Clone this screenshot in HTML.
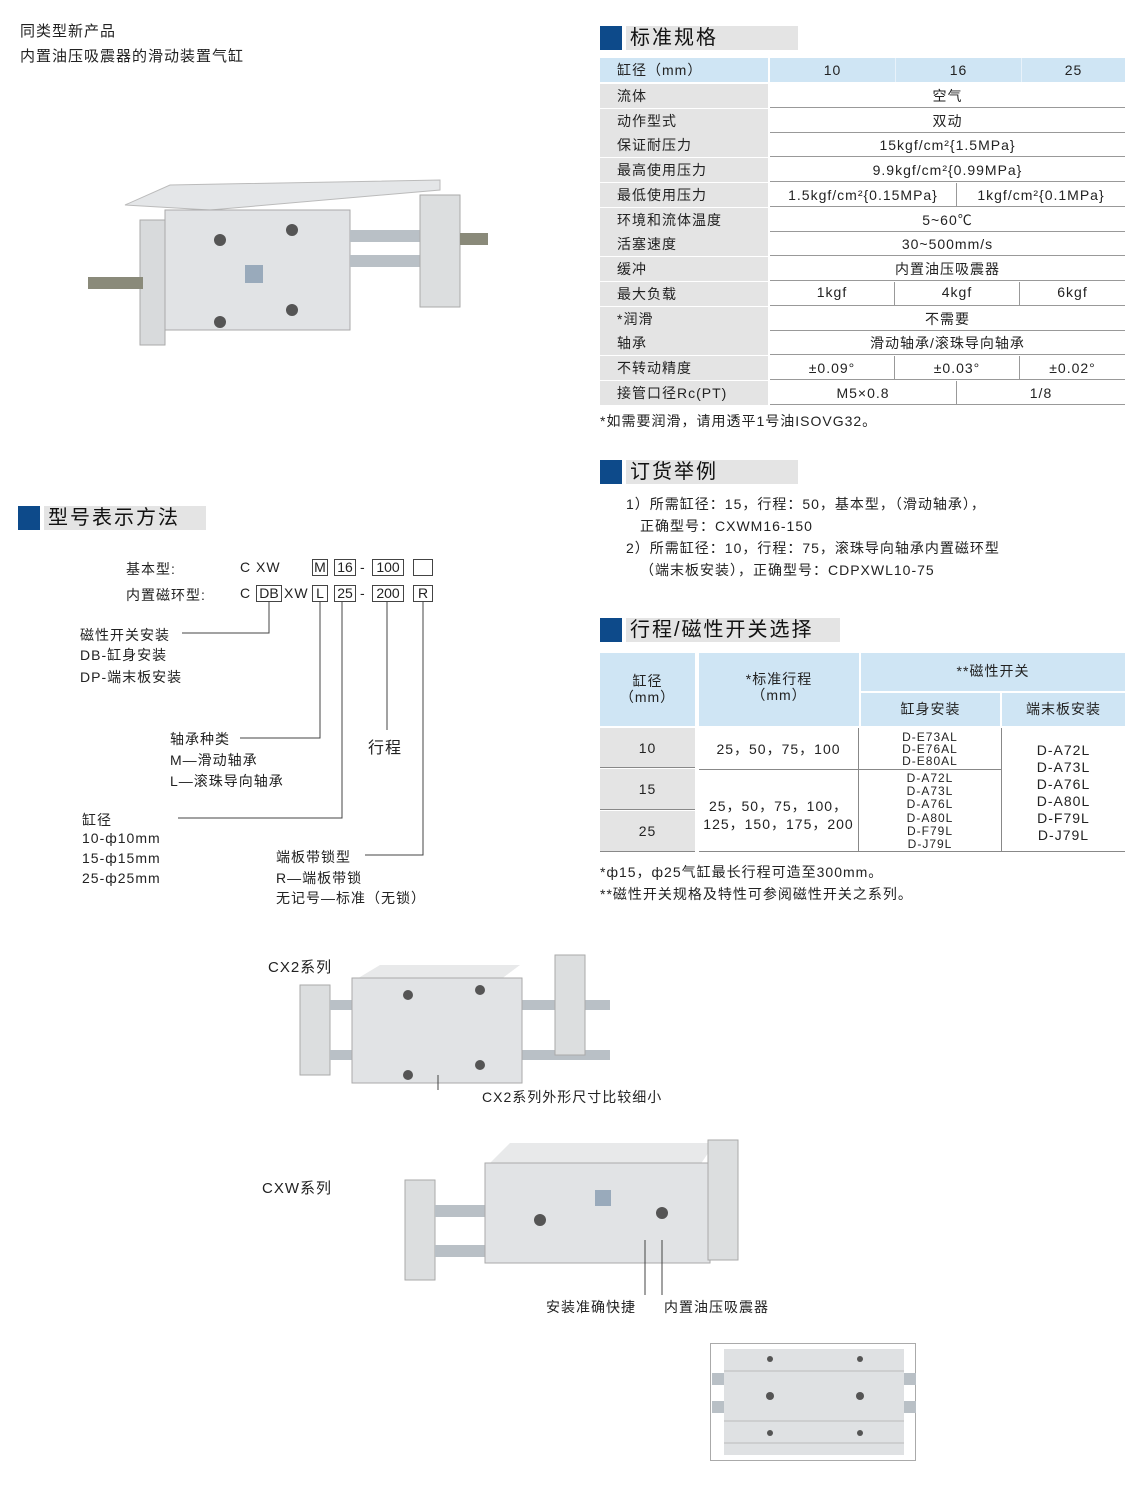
<!DOCTYPE html>
<html><head><meta charset="utf-8"><style>
*{margin:0;padding:0;box-sizing:border-box}
body{width:1140px;height:1504px;background:#fff;position:relative;font-family:"Liberation Sans","Noto Sans CJK SC",sans-serif;color:#222;overflow:hidden}
.a{position:absolute;white-space:nowrap}
.t{font-size:14px;letter-spacing:1px}
.hd{position:absolute;height:24px}
.hd .sq{position:absolute;left:0;top:0;width:22px;height:24px;background:#0d4a8a}
.hd .bar{position:absolute;left:26px;top:0;height:24px;background:#e4e4e4;font-size:20px;line-height:24px;padding-left:4px;letter-spacing:2px;color:#111}
.c{position:absolute;font-size:14px;text-align:center;line-height:24px;height:24px;letter-spacing:1px}
.bx{position:absolute;border:1px solid #444;height:17px;font-size:14px;line-height:15px;text-align:center}
</style></head><body>

<div class="a t" style="left:20px;top:20px;font-size:15px">同类型新产品</div>
<div class="a t" style="left:20px;top:45px;font-size:15px">内置油压吸震器的滑动装置气缸</div>

<svg class="a" style="left:80px;top:175px" width="420" height="175">
<polygon points="45,30 90,10 360,5 360,15 130,35" fill="#e4e6e8" stroke="#bbb"/>
<rect x="60" y="45" width="25" height="125" fill="#d8dadc" stroke="#aaa"/>
<rect x="85" y="35" width="185" height="120" fill="#e1e3e5" stroke="#aaa"/>
<rect x="270" y="55" width="75" height="12" fill="#b9c0c6"/>
<rect x="270" y="80" width="75" height="12" fill="#b9c0c6"/>
<rect x="340" y="20" width="40" height="112" fill="#dcdedf" stroke="#aaa"/>
<rect x="380" y="58" width="28" height="12" fill="#8a8a7a"/>
<rect x="8" y="102" width="55" height="12" fill="#8a8a7a"/>
<circle cx="140" cy="65" r="6" fill="#555"/><circle cx="140" cy="147" r="6" fill="#555"/>
<circle cx="212" cy="55" r="6" fill="#555"/><circle cx="212" cy="135" r="6" fill="#555"/>
<rect x="165" y="90" width="18" height="18" fill="#9ab"/>
</svg>

<div class="hd" style="left:600px;top:26px"><div class="sq"></div><div class="bar" style="width:172px">标准规格</div></div>

<div style="position:absolute;left:600px;top:58px;width:525px">
<div class="c" style="left:0;top:0;width:168px;background:#cfe5f4;text-align:left;padding-left:17px">缸径（mm）</div>
<div class="c" style="left:170px;top:0;width:355px;background:#cfe5f4"></div>
<div class="c" style="left:170px;top:0;width:126px;background:#cfe5f4;border-right:1px solid #e8f2fa">10</div>
<div class="c" style="left:296px;top:0;width:126px;background:#cfe5f4;border-right:1px solid #e8f2fa">16</div>
<div class="c" style="left:422px;top:0;width:103px;background:#cfe5f4">25</div>
</div>
<div style="position:absolute;left:600px;top:84px;width:525px">
<div class="c" style="left:0;top:0;width:168px;background:#e4e4e4;text-align:left;padding-left:17px">流体</div><div class="c" style="left:170px;top:0;width:355px;border-bottom:1px solid #999">空气</div>
<div class="c" style="left:0;top:25px;width:168px;background:#e4e4e4;text-align:left;padding-left:17px">动作型式</div><div class="c" style="left:170px;top:25px;width:355px;border-bottom:1px solid #999">双动</div>
<div class="c" style="left:0;top:49px;width:168px;background:#e4e4e4;text-align:left;padding-left:17px">保证耐压力</div><div class="c" style="left:170px;top:49px;width:355px;border-bottom:1px solid #999">15kgf/cm²{1.5MPa}</div>
<div class="c" style="left:0;top:74px;width:168px;background:#e4e4e4;text-align:left;padding-left:17px">最高使用压力</div><div class="c" style="left:170px;top:74px;width:355px;border-bottom:1px solid #999">9.9kgf/cm²{0.99MPa}</div>
<div class="c" style="left:0;top:99px;width:168px;background:#e4e4e4;text-align:left;padding-left:17px">最低使用压力</div><div class="c" style="left:170px;top:99px;width:187px;border-bottom:1px solid #999;border-right:1px solid #999">1.5kgf/cm²{0.15MPa}</div><div class="c" style="left:357px;top:99px;width:168px;border-bottom:1px solid #999">1kgf/cm²{0.1MPa}</div>
<div class="c" style="left:0;top:124px;width:168px;background:#e4e4e4;text-align:left;padding-left:17px">环境和流体温度</div><div class="c" style="left:170px;top:124px;width:355px;border-bottom:1px solid #999">5~60℃</div>
<div class="c" style="left:0;top:148px;width:168px;background:#e4e4e4;text-align:left;padding-left:17px">活塞速度</div><div class="c" style="left:170px;top:148px;width:355px;border-bottom:1px solid #999">30~500mm/s</div>
<div class="c" style="left:0;top:173px;width:168px;background:#e4e4e4;text-align:left;padding-left:17px">缓冲</div><div class="c" style="left:170px;top:173px;width:355px;border-bottom:1px solid #999">内置油压吸震器</div>
<div class="c" style="left:0;top:198px;width:168px;background:#e4e4e4;text-align:left;padding-left:17px">最大负载</div><div class="c" style="left:170px;top:198px;width:125px;border-bottom:1px solid #999;border-right:1px solid #999;line-height:20px">1kgf</div><div class="c" style="left:295px;top:198px;width:125px;border-bottom:1px solid #999;border-right:1px solid #999;line-height:20px">4kgf</div><div class="c" style="left:420px;top:198px;width:105px;border-bottom:1px solid #999;line-height:20px">6kgf</div>
<div class="c" style="left:0;top:223px;width:168px;background:#e4e4e4;text-align:left;padding-left:17px">*润滑</div><div class="c" style="left:170px;top:223px;width:355px;border-bottom:1px solid #999">不需要</div>
<div class="c" style="left:0;top:247px;width:168px;background:#e4e4e4;text-align:left;padding-left:17px">轴承</div><div class="c" style="left:170px;top:247px;width:355px;border-bottom:1px solid #999">滑动轴承/滚珠导向轴承</div>
<div class="c" style="left:0;top:272px;width:168px;background:#e4e4e4;text-align:left;padding-left:17px">不转动精度</div><div class="c" style="left:170px;top:272px;width:125px;border-bottom:1px solid #999;border-right:1px solid #999">±0.09°</div><div class="c" style="left:295px;top:272px;width:125px;border-bottom:1px solid #999;border-right:1px solid #999">±0.03°</div><div class="c" style="left:420px;top:272px;width:105px;border-bottom:1px solid #999">±0.02°</div>
<div class="c" style="left:0;top:297px;width:168px;background:#e4e4e4;text-align:left;padding-left:17px">接管口径Rc(PT)</div><div class="c" style="left:170px;top:297px;width:187px;border-bottom:1px solid #999;border-right:1px solid #999">M5×0.8</div><div class="c" style="left:357px;top:297px;width:168px;border-bottom:1px solid #999">1/8</div>
</div>
<div class="a t" style="left:600px;top:411px">*如需要润滑，请用透平1号油ISOVG32。</div>

<div class="hd" style="left:600px;top:460px"><div class="sq"></div><div class="bar" style="width:172px">订货举例</div></div>
<div class="a t" style="left:626px;top:494px">1）所需缸径：15，行程：50，基本型，（滑动轴承），</div>
<div class="a t" style="left:640px;top:516px">正确型号：CXWM16-150</div>
<div class="a t" style="left:626px;top:538px">2）所需缸径：10，行程：75，滚珠导向轴承内置磁环型</div>
<div class="a t" style="left:640px;top:560px">（端末板安装），正确型号：CDPXWL10-75</div>

<div class="hd" style="left:600px;top:618px"><div class="sq"></div><div class="bar" style="width:214px">行程/磁性开关选择</div></div>

<div style="position:absolute;left:600px;top:653px;width:525px;height:200px;font-size:14px;letter-spacing:1px">
<div class="a" style="left:0;top:0;width:95px;height:73px;background:#cfe5f4;text-align:center;padding-top:20px;line-height:16px">缸径<br>（mm）</div>
<div class="a" style="left:99px;top:0;width:160px;height:73px;background:#cfe5f4;text-align:center;padding-top:18px;line-height:16px">*标准行程<br>（mm）</div>
<div class="a" style="left:261px;top:0;width:264px;height:38px;background:#cfe5f4;text-align:center;line-height:36px">**磁性开关</div>
<div class="a" style="left:261px;top:40px;width:139px;height:33px;background:#cfe5f4;text-align:center;line-height:33px">缸身安装</div>
<div class="a" style="left:402px;top:40px;width:123px;height:33px;background:#cfe5f4;text-align:center;line-height:33px">端末板安装</div>
<div class="a" style="left:0;top:75px;width:95px;height:40px;background:#e4e4e4;text-align:center;line-height:40px;border-bottom:1px solid #888">10</div>
<div class="a" style="left:0;top:116px;width:95px;height:41px;background:#e4e4e4;text-align:center;line-height:41px;border-bottom:1px solid #888">15</div>
<div class="a" style="left:0;top:158px;width:95px;height:41px;background:#e4e4e4;text-align:center;line-height:41px;border-bottom:1px solid #888">25</div>
<div class="a" style="left:99px;top:75px;width:160px;height:42px;text-align:center;line-height:42px;border-bottom:1px solid #888;border-right:1px solid #888">25，50，75，100</div>
<div class="a" style="left:99px;top:117px;width:160px;height:82px;text-align:center;line-height:18px;padding-top:27px;border-bottom:1px solid #888;border-right:1px solid #888">25，50，75，100，<br>125，150，175，200</div>
<div class="a" style="left:259px;top:75px;width:143px;height:42px;text-align:center;line-height:12px;font-size:12px;padding-top:3px;border-bottom:1px solid #888;border-right:1px solid #888">D-E73AL<br>D-E76AL<br>D-E80AL</div>
<div class="a" style="left:259px;top:117px;width:143px;height:82px;text-align:center;line-height:13.2px;font-size:12px;padding-top:2px;border-bottom:1px solid #888;border-right:1px solid #888">D-A72L<br>D-A73L<br>D-A76L<br>D-A80L<br>D-F79L<br>D-J79L</div>
<div class="a" style="left:402px;top:75px;width:123px;height:124px;text-align:center;line-height:17px;padding-top:14px;border-bottom:1px solid #888">D-A72L<br>D-A73L<br>D-A76L<br>D-A80L<br>D-F79L<br>D-J79L</div>
</div>
<div class="a t" style="left:600px;top:862px">*ф15，ф25气缸最长行程可造至300mm。</div>
<div class="a t" style="left:600px;top:884px">**磁性开关规格及特性可参阅磁性开关之系列。</div>

<div class="hd" style="left:18px;top:506px"><div class="sq"></div><div class="bar" style="width:162px">型号表示方法</div></div>
<div class="a t" style="left:126px;top:559px">基本型:</div>
<div class="a t" style="left:126px;top:585px">内置磁环型:</div>
<div class="a t" style="left:240px;top:559px">C XW</div>
<div class="bx" style="left:312px;top:559px;width:16px">M</div>
<div class="bx" style="left:334px;top:559px;width:22px">16</div>
<div class="a t" style="left:360px;top:559px">-</div>
<div class="bx" style="left:372px;top:559px;width:32px">100</div>
<div class="bx" style="left:413px;top:559px;width:20px"></div>
<div class="a t" style="left:240px;top:585px">C</div>
<div class="bx" style="left:256px;top:585px;width:26px">DB</div>
<div class="a t" style="left:284px;top:585px">XW</div>
<div class="bx" style="left:312px;top:585px;width:16px">L</div>
<div class="bx" style="left:334px;top:585px;width:22px">25</div>
<div class="a t" style="left:360px;top:585px">-</div>
<div class="bx" style="left:372px;top:585px;width:32px">200</div>
<div class="bx" style="left:413px;top:585px;width:20px">R</div>
<svg class="a" style="left:0;top:0" width="600" height="920">
<g stroke="#444" fill="none" stroke-width="1">
<polyline points="182,633 269,633 269,602"/>
<polyline points="240,738 320,738 320,602"/>
<polyline points="178,818 342,818 342,602"/>
<line x1="387" y1="602" x2="387" y2="730"/>
<polyline points="365,855 423,855 423,602"/>
</g></svg>
<div class="a t" style="left:80px;top:625px">磁性开关安装</div>
<div class="a t" style="left:80px;top:645px">DB-缸身安装</div>
<div class="a t" style="left:80px;top:667px">DP-端末板安装</div>
<div class="a t" style="left:368px;top:734px;font-size:16px">行程</div>
<div class="a t" style="left:170px;top:729px">轴承种类</div>
<div class="a t" style="left:170px;top:750px">M—滑动轴承</div>
<div class="a t" style="left:170px;top:771px">L—滚珠导向轴承</div>
<div class="a t" style="left:82px;top:810px">缸径</div>
<div class="a t" style="left:82px;top:830px">10-ф10mm</div>
<div class="a t" style="left:82px;top:850px">15-ф15mm</div>
<div class="a t" style="left:82px;top:870px">25-ф25mm</div>
<div class="a t" style="left:276px;top:847px">端板带锁型</div>
<div class="a t" style="left:276px;top:868px">R—端板带锁</div>
<div class="a t" style="left:276px;top:888px">无记号—标准（无锁）</div>

<div class="a t" style="left:268px;top:956px;font-size:15px">CX2系列</div>
<svg class="a" style="left:280px;top:950px" width="330" height="140">
<rect x="20" y="35" width="30" height="90" fill="#dcdedf" stroke="#aaa"/>
<rect x="50" y="50" width="300" height="10" fill="#b9c0c6"/>
<rect x="50" y="100" width="300" height="10" fill="#b9c0c6"/>
<polygon points="75,30 100,15 240,15 220,30" fill="#e8e9ea"/>
<rect x="72" y="28" width="170" height="105" fill="#e1e3e5" stroke="#aaa"/>
<rect x="275" y="5" width="30" height="100" fill="#dcdedf" stroke="#aaa"/>
<circle cx="128" cy="45" r="5" fill="#555"/><circle cx="128" cy="125" r="5" fill="#555"/>
<circle cx="200" cy="40" r="5" fill="#555"/><circle cx="200" cy="115" r="5" fill="#555"/>
<polyline points="158,125 158,146 200,146" stroke="#444" fill="none"/>
</svg>
<div class="a t" style="left:482px;top:1087px">CX2系列外形尺寸比较细小</div>

<div class="a t" style="left:262px;top:1177px;font-size:15px">CXW系列</div>
<svg class="a" style="left:400px;top:1135px" width="350" height="160">
<rect x="5" y="45" width="30" height="100" fill="#dcdedf" stroke="#aaa"/>
<rect x="35" y="70" width="280" height="12" fill="#b9c0c6"/>
<rect x="35" y="110" width="280" height="12" fill="#b9c0c6"/>
<polygon points="88,30 110,8 315,8 300,30" fill="#e8e9ea"/>
<rect x="85" y="28" width="225" height="100" fill="#e1e3e5" stroke="#aaa"/>
<rect x="308" y="5" width="30" height="120" fill="#dcdedf" stroke="#aaa"/>
<circle cx="140" cy="85" r="6" fill="#555"/><circle cx="262" cy="78" r="6" fill="#555"/>
<rect x="195" y="55" width="16" height="16" fill="#9ab"/>
<polyline points="245,105 245,160" stroke="#444" fill="none"/>
<polyline points="262,105 262,160" stroke="#444" fill="none"/>
</svg>
<div class="a t" style="left:546px;top:1297px">安装准确快捷</div>
<div class="a t" style="left:664px;top:1297px">内置油压吸震器</div>

<svg class="a" style="left:710px;top:1343px" width="206" height="118">
<rect x="0.5" y="0.5" width="205" height="117" fill="#fff" stroke="#aaa"/>
<rect x="14" y="6" width="180" height="106" fill="#dfe1e3"/>
<line x1="14" y1="28" x2="194" y2="28" stroke="#bbb"/>
<line x1="14" y1="78" x2="194" y2="78" stroke="#bbb"/>
<line x1="14" y1="100" x2="194" y2="100" stroke="#bbb"/>
<rect x="2" y="30" width="12" height="12" fill="#b9c0c6"/><rect x="194" y="30" width="12" height="12" fill="#b9c0c6"/>
<rect x="2" y="58" width="12" height="12" fill="#b9c0c6"/><rect x="194" y="58" width="12" height="12" fill="#b9c0c6"/>
<circle cx="60" cy="16" r="3" fill="#555"/><circle cx="150" cy="16" r="3" fill="#555"/>
<circle cx="60" cy="53" r="4" fill="#555"/><circle cx="150" cy="53" r="4" fill="#555"/>
<circle cx="60" cy="90" r="3" fill="#555"/><circle cx="150" cy="90" r="3" fill="#555"/>
</svg>
</body></html>
